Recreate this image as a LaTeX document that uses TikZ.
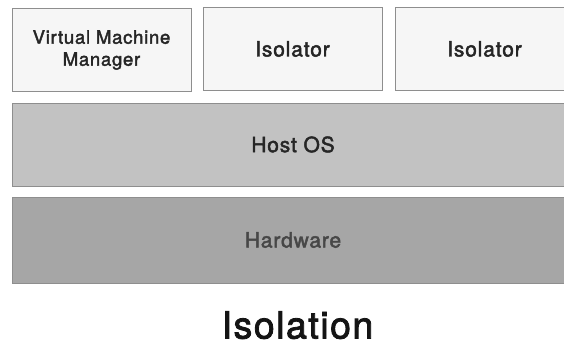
\documentclass[tikz,border=0pt]{standalone}
\usepackage{fontspec}
\setmainfont{TeX Gyre Heros}[LetterSpace=4, FakeBold=2.2]
\definecolor{edgegray}{HTML}{8E8E8E}
\definecolor{lightfill}{HTML}{F6F6F6}
\definecolor{osfill}{HTML}{C2C2C2}
\definecolor{hwfill}{HTML}{A6A6A6}
\definecolor{labelink}{HTML}{262626}
\tikzset{
  layer/.style={draw=edgegray, line width=1pt, rectangle, inner sep=0pt,
    text=labelink, align=center},
  topbox/.style={layer, fill=lightfill, minimum width=179pt, minimum height=82pt,
    font=\fontsize{21}{25}\selectfont},
  widebox/.style={layer, minimum width=562pt, font=\fontsize{21}{25}\selectfont},
}
\begin{document}
\begin{tikzpicture}[x=1pt, y=-1pt]
  \useasboundingbox (0,0) rectangle (564,345);
  % top row: manager and isolators
  \node[topbox, font=\fontsize{18.5}{22}\selectfont] (vmm) at (101.5,50) {Virtual Machine\\Manager};
  \node[topbox] (iso1) at (292.5,49) {Isolator};
  \node[topbox] (iso2) at (484.5,49) {Isolator};
  % host operating system layer
  \node[widebox, fill=osfill, minimum height=83pt] (host) at (293,144.5) {Host OS};
  % hardware layer
  \node[widebox, fill=hwfill, minimum height=86pt, text=black!72] (hw) at (293,240) {Hardware};
  % caption, placed by its baseline
  \node[font=\fontsize{37.5}{44}\selectfont, text=black!92, inner sep=0pt, anchor=base] (caption) at (297.5,338.5) {Isolation};
\end{tikzpicture}
\end{document}
